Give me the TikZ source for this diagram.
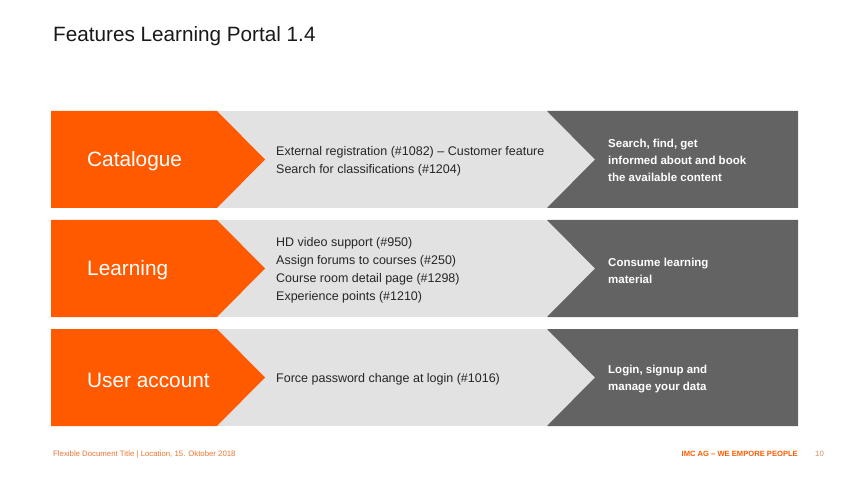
\documentclass[tikz,border=0pt]{standalone}
\usepackage{fontspec}
\setmainfont{Liberation Sans}
\usepackage{xcolor}
\usepackage{tikz}
\usetikzlibrary{positioning}
\definecolor{imcorange}{RGB}{255,90,0}
\definecolor{lightgrey}{RGB}{226,226,226}
\definecolor{darkgrey}{RGB}{99,99,99}
\definecolor{footorange}{RGB}{238,115,45}
\definecolor{pagegrey}{RGB}{215,140,95}

\begin{document}
\begin{tikzpicture}[x=1pt,y=-1pt,
rowlabel/.style={anchor=west,inner sep=0pt,text=white,font=\fontsize{20.8}{24}\selectfont},
feature/.style={anchor=west,inner sep=0pt,align=left,text=black!85,font=\fontsize{12.5}{18}\selectfont},
goal/.style={anchor=west,inner sep=0pt,align=left,text=white,font=\bfseries\fontsize{11.5}{17}\selectfont},
foot/.style={inner sep=0pt,font=\fontsize{7.8}{9}\selectfont}]
\useasboundingbox (0,0) rectangle (850,478);
\node[anchor=west,inner sep=0pt,text=black!90,font=\fontsize{20.7}{24}\selectfont] (title) at (53,36) {Features Learning Portal 1.4};
% catalogue row
\fill[lightgrey] (51,111) rectangle (798,208);
\fill[imcorange] (51,111) -- (217,111) -- (265,159.5) -- (217,208) -- (51,208) -- cycle;
\fill[darkgrey] (547,111) -- (798,111) -- (798,208) -- (547,208) -- (595,159.5) -- cycle;
% learning row
\fill[lightgrey] (51,220) rectangle (798,317);
\fill[imcorange] (51,220) -- (217,220) -- (265,268.5) -- (217,317) -- (51,317) -- cycle;
\fill[darkgrey] (547,220) -- (798,220) -- (798,317) -- (547,317) -- (595,268.5) -- cycle;
% user account row
\fill[lightgrey] (51,329) rectangle (798,426);
\fill[imcorange] (51,329) -- (217,329) -- (265,377.5) -- (217,426) -- (51,426) -- cycle;
\fill[darkgrey] (547,329) -- (798,329) -- (798,426) -- (547,426) -- (595,377.5) -- cycle;
\node[rowlabel] (catalogue) at (87,161) {Catalogue};
\node[rowlabel] (learning) at (87,270) {Learning};
\node[rowlabel] (account) at (87,380) {User account};
\node[feature] (catfeat) at (276,161.5) {External registration (\#1082) -- Customer feature\\Search for classifications (\#1204)};
\node[feature] (learnfeat) at (276,270.5) {HD video support (\#950)\\Assign forums to courses (\#250)\\Course room detail page (\#1298)\\Experience points (\#1210)};
\node[feature] (accfeat) at (276,379.5) {Force password change at login (\#1016)};
\node[goal] (catgoal) at (608,160.5) {Search, find, get\\informed about and book\\the available content};
\node[goal] (learngoal) at (608,270.5) {Consume learning\\material};
\node[goal] (accgoal) at (608,379.5) {Login, signup and\\manage your data};
% footer
\node[foot,anchor=west,text=footorange] (doctitle) at (53,454) {Flexible Document Title | Location, 15. Oktober 2018};
\node[foot,anchor=east,text=imcorange,font=\bfseries\fontsize{7.6}{9}\selectfont] (claim) at (798,454) {IMC AG -- WE EMPORE PEOPLE};
\node[foot,anchor=west,text=pagegrey] (pageno) at (815,454) {10};
\end{tikzpicture}
\end{document}
